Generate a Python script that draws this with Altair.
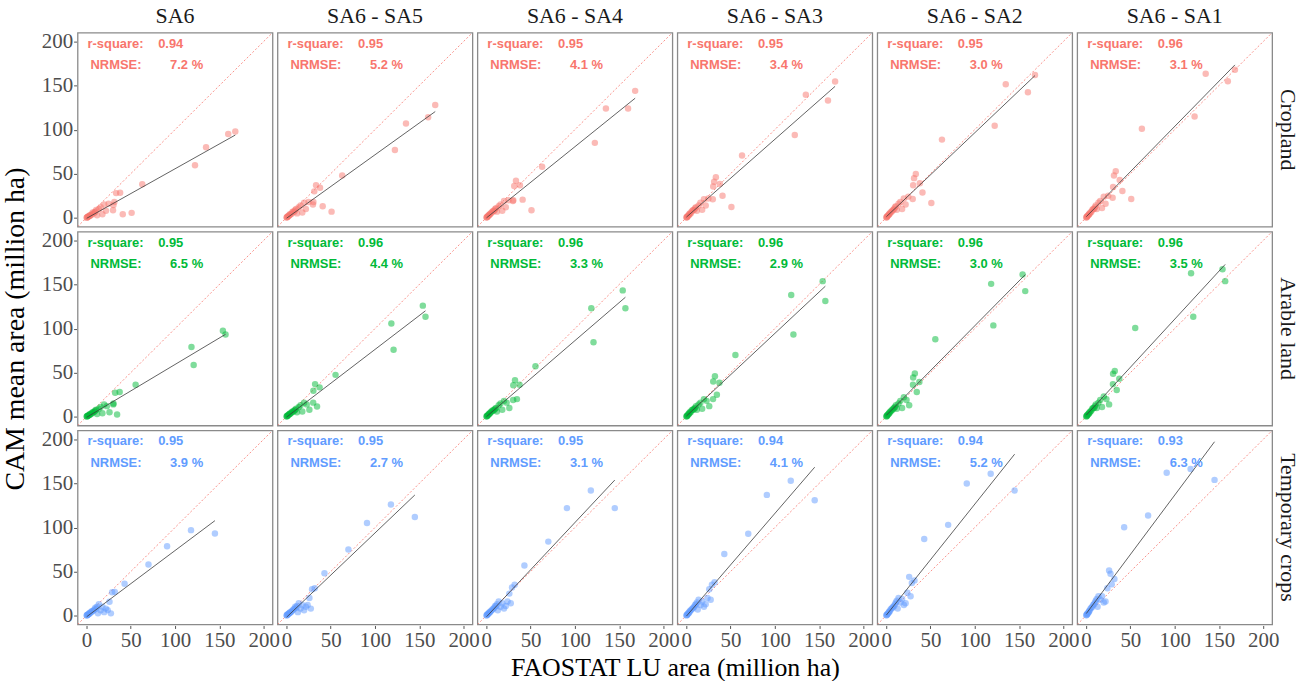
import altair as alt
import pandas as pd

# Facet layout
land_uses = ["Cropland", "Arable land", "Temporary crops"]
scenarios = ["SA6", "SA6 - SA5", "SA6 - SA4", "SA6 - SA3", "SA6 - SA2", "SA6 - SA1"]
colors = ["#F8766D", "#00BA38", "#619CFF"]
axis_limits = [-10, 210]
tick_values = [0, 50, 100, 150, 200]

# FAOSTAT reported area per country (million ha)
cropland_faostat = [168, 160, 135, 122.5, 63, 51, 41, 38, 33.5, 31.5, 30.5, 30, 25, 22, 20, 18, 16, 14, 12, 11, 10, 9, 8, 7, 6, 5, 4, 3.5, 3, 2, 1.5, 1, 0.5, 0.3]
arable_faostat = [157, 154, 121, 118.5, 55.5, 37.5, 34.6, 32.4, 30.5, 30.3, 26, 23, 20, 18, 16, 14, 12, 11, 10, 9, 8, 7, 6, 5, 4, 3.5, 3, 2, 1.5, 1, 0.5, 0.3]
temporary_faostat = [145, 118, 91, 70, 43, 32, 29, 27.6, 26, 24, 22, 20, 18, 16, 14, 13, 12, 11, 10, 9, 8, 7, 6, 5, 4, 3.5, 3, 2, 1.5, 1, 0.5, 0.3]

# CAM mean area per country and scenario (million ha)
cropland_sa6 = [98, 95, 80, 59.5, 38, 5.6, 4.1, 28.5, 28, 18, 14.6, 8.6, 16, 8, 15, 4, 12, 10, 3, 9, 7, 6, 5, 6, 4, 3, 3, 2, 2, 1.5, 1, 0.8, 0.4, 0.2]
cropland_sa5 = [128, 114, 107, 77, 48, 7, 13, 34, 37, 30, 18, 15, 18, 10, 17, 6, 14, 12, 5, 10, 9, 7, 7, 7, 5, 4, 4, 3, 2.5, 2, 1.2, 1, 0.5, 0.3]
cropland_sa4 = [144, 124, 124, 85, 58, 8.6, 20.6, 37, 42, 36, 20, 19, 20, 12, 19, 8, 15, 13, 7, 11, 10, 8, 8, 7, 6, 5, 4, 3.5, 3, 2, 1.5, 1, 0.5, 0.3]
cropland_sa3 = [154.5, 133, 139.5, 94, 70.7, 12.3, 25, 38.5, 46, 41, 35.6, 21, 22, 14, 21, 9, 17, 14, 8, 12, 11, 9, 9, 8, 7, 5, 5, 4, 3, 2.5, 1.5, 1, 0.6, 0.3]
cropland_sa2 = [162, 142.5, 151.5, 104.4, 88.7, 16.8, 28.8, 39.3, 49.7, 45, 37, 21.3, 24, 15, 22, 10, 18, 16, 9, 13, 12, 10, 9, 8, 7, 6, 5, 4, 3.5, 2.5, 2, 1.2, 0.6, 0.4]
cropland_sa1 = [168, 155, 163.5, 114.8, 101, 21.3, 30.3, 43, 52.7, 48, 35, 22.8, 25, 16, 24, 11, 19, 17, 10, 14, 12, 10, 10, 9, 7, 6, 5, 4, 3.5, 2.5, 2, 1.2, 0.6, 0.4]

arable_sa6 = [93.2, 97.6, 58.7, 79, 36.3, 28, 2.6, 27.3, 15, 14, 5, 12, 14, 4, 11, 9, 3, 8, 7, 6, 5, 5, 4, 3, 3, 2, 2, 1.5, 1, 0.8, 0.4, 0.2]
arable_sa5 = [113.4, 126, 76, 105.8, 47.5, 33.3, 11.6, 37, 29.5, 16, 8, 14, 16, 6, 13, 11, 5, 9, 8, 7, 6, 6, 5, 4, 3.5, 3, 2.5, 2, 1.2, 1, 0.5, 0.3]
arable_sa4 = [123, 143.3, 84.5, 123, 57.2, 36.3, 20, 41.5, 35.6, 19, 10, 16, 18, 8, 15, 13, 6, 10, 9, 8, 7, 7, 6, 5, 4, 3.5, 3, 2, 1.5, 1, 0.5, 0.3]
arable_sa3 = [131.3, 153.8, 93.2, 138, 70, 38.5, 25, 46, 40, 20, 12, 18, 20, 9, 16, 14, 8, 12, 10, 9, 8, 8, 7, 5, 5, 4, 3, 2.5, 1.5, 1, 0.6, 0.3]
arable_sa2 = [142.5, 161.3, 103.6, 150.7, 87.9, 39.3, 28, 49, 44.5, 36.3, 13, 19, 22, 10, 18, 15, 9, 13, 11, 10, 9, 8, 7, 6, 5, 4, 3.5, 2.5, 2, 1.2, 0.6, 0.4]
arable_sa1 = [153.8, 167.2, 113.4, 162.7, 100.6, 43, 30.3, 52, 48.7, 37, 14, 20, 23, 11, 19, 16, 10, 14, 12, 10, 10, 9, 7, 6, 5, 4, 3.5, 2.5, 2, 1.2, 0.6, 0.4]

temporary_sa6 = [93.3, 97, 78.7, 58, 36.3, 27, 26.6, 2.6, 15.7, 6.3, 8, 4, 10, 6, 13, 2.6, 10, 8, 9, 7, 6, 5, 5, 4, 3, 3, 2, 1.5, 1, 0.8, 0.4, 0.2]
temporary_sa5 = [112, 126, 105, 75, 48, 31, 30, 8, 20, 12, 10, 6, 12, 8, 14, 4, 11, 9, 10, 8, 7, 6, 5, 4, 3.5, 3, 2.5, 2, 1.2, 1, 0.5, 0.3]
temporary_sa4 = [122, 142, 122, 84, 57, 35, 32, 14, 25, 16, 11, 8, 14, 10, 16, 6, 13, 11, 11, 9, 8, 7, 6, 5, 4, 3.5, 3, 2, 1.5, 1, 0.5, 0.3]
temporary_sa3 = [131, 153, 137, 93, 70, 38, 35, 18, 30, 20, 13, 10, 16, 12, 18, 7, 15, 13, 12, 10, 9, 8, 7, 6, 5, 4, 3, 2.5, 1.5, 1, 0.6, 0.3]
temporary_sa2 = [142, 161, 150, 103, 87, 40, 37, 22, 44, 26, 14, 12, 19, 15, 20, 8, 17, 15, 13, 11, 10, 9, 8, 7, 5, 4.5, 3.5, 2.5, 2, 1.2, 0.6, 0.4]
temporary_sa1 = [154, 166.3, 162, 113.5, 100.3, 41.6, 35.5, 47.5, 51.3, 31, 16, 15, 22, 18, 22, 10, 19, 17, 15, 13, 12, 10, 9, 8, 6, 5, 4, 3, 2, 1.5, 0.8, 0.4]

# Goodness-of-fit statistics per panel
cropland_r2 = [0.94, 0.95, 0.95, 0.95, 0.95, 0.96]
cropland_nrmse = [7.2, 5.2, 4.1, 3.4, 3.0, 3.1]
arable_r2 = [0.95, 0.96, 0.96, 0.96, 0.96, 0.96]
arable_nrmse = [6.5, 4.4, 3.3, 2.9, 3.0, 3.5]
temporary_r2 = [0.95, 0.95, 0.95, 0.94, 0.94, 0.93]
temporary_nrmse = [3.9, 2.7, 3.1, 4.1, 5.2, 6.3]

faostat = {"Cropland": cropland_faostat, "Arable land": arable_faostat, "Temporary crops": temporary_faostat}
cam = {
    "Cropland": [cropland_sa6, cropland_sa5, cropland_sa4, cropland_sa3, cropland_sa2, cropland_sa1],
    "Arable land": [arable_sa6, arable_sa5, arable_sa4, arable_sa3, arable_sa2, arable_sa1],
    "Temporary crops": [temporary_sa6, temporary_sa5, temporary_sa4, temporary_sa3, temporary_sa2, temporary_sa1],
}
r2 = {"Cropland": cropland_r2, "Arable land": arable_r2, "Temporary crops": temporary_r2}
nrmse = {"Cropland": cropland_nrmse, "Arable land": arable_nrmse, "Temporary crops": temporary_nrmse}

records = []
for lu in land_uses:
    xs = faostat[lu]
    for i, sc in enumerate(scenarios):
        ys = cam[lu][i]
        for x, y in zip(xs, ys):
            records.append({"kind": "pt", "lu": lu, "sc": sc, "x": x, "y": y})
        for v in axis_limits:
            records.append({"kind": "ref", "lu": lu, "sc": sc, "x": v, "y": v})
        records.append({"kind": "ann", "lu": lu, "sc": sc,
                        "r2": f"{r2[lu][i]:.2f}", "nrmse": f"{nrmse[lu][i]:.1f} %"})
df = pd.DataFrame(records)

serif = "Liberation Serif"
sans = "Liberation Sans"

xscale = alt.Scale(domain=axis_limits, nice=False, zero=False)
yscale = alt.Scale(domain=axis_limits, nice=False, zero=False)
color = alt.Color("lu:N", scale=alt.Scale(domain=land_uses, range=colors), legend=None)

X = alt.X("x:Q", scale=xscale, title=None,
          axis=alt.Axis(values=tick_values, labelOverlap=False, labelFlush=False, labelBound=False))
Y = alt.Y("y:Q", scale=yscale, title=None,
          axis=alt.Axis(values=tick_values, labelOverlap=False, labelFlush=False, labelBound=False))

base = alt.Chart()

points = base.transform_filter(alt.datum.kind == "pt").mark_circle(
    size=42, opacity=0.5
).encode(x=X, y=Y, color=color)

fit = base.transform_filter(alt.datum.kind == "pt").transform_regression(
    "x", "y", groupby=["lu", "sc"]
).mark_line(color="#3a3a3a", strokeWidth=0.8).encode(x=X, y=Y)

one_to_one = base.transform_filter(alt.datum.kind == "ref").mark_line(
    color="#F8766D", strokeWidth=0.8, strokeDash=[2, 2], clip=True
).encode(x=X, y=Y)

ann = base.transform_filter(alt.datum.kind == "ann")
txt = dict(font=sans, fontWeight="bold", fontSize=13, align="left", baseline="middle")
lab_r2 = ann.mark_text(**txt).encode(x=alt.value(10), y=alt.value(11), text=alt.value("r-square:"), color=color)
val_r2 = ann.mark_text(**txt).encode(x=alt.value(81), y=alt.value(11), text="r2:N", color=color)
lab_nr = ann.mark_text(**txt).encode(x=alt.value(13), y=alt.value(33), text=alt.value("NRMSE:"), color=color)
val_nr = ann.mark_text(**txt).encode(x=alt.value(93), y=alt.value(33), text="nrmse:N", color=color)

panel = alt.layer(one_to_one, points, fit, lab_r2, val_r2, lab_nr, val_nr).properties(width=196, height=195)

chart = panel.facet(
    data=df,
    column=alt.Column("sc:N", sort=scenarios, title="FAOSTAT LU area (million ha)",
                      header=alt.Header(labelFont=serif, labelFontSize=22, labelColor="#1a1a1a", labelPadding=4,
                                        labelOrient="top", titleOrient="bottom",
                                        titleFont=serif, titleFontSize=26, titleFontWeight="normal",
                                        titleColor="#000000", titlePadding=-5)),
    row=alt.Row("lu:N", sort=land_uses, title="CAM mean area (million ha)",
                header=alt.Header(labelFont=serif, labelFontSize=22, labelColor="#1a1a1a",
                                  labelOrient="right", labelAngle=90, labelPadding=3,
                                  titleOrient="left", titleFont=serif, titleFontSize=28,
                                  titleFontWeight="normal", titleColor="#000000", titlePadding=1)),
    spacing=3,
).properties(
    padding={"left": 1, "top": 3, "right": 0, "bottom": 0}
).configure_view(
    stroke="#8a8a8a", strokeWidth=1.3
).configure_axis(
    grid=False, domain=False, tickColor="#555555", tickSize=3,
    labelFont=serif, labelFontSize=21, labelColor="#4d4d4d", labelPadding=1,
)

chart.save("out.html", embed_options={"renderer": "svg", "actions": False})
